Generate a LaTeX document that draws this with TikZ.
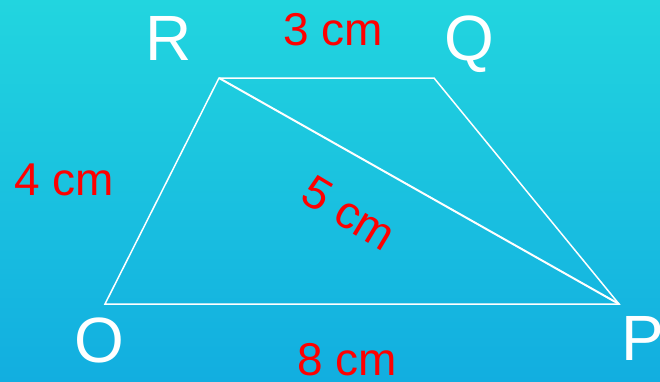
\documentclass[tikz,border=0pt]{standalone}
\usepackage{fontspec}
\setmainfont{Liberation Sans}
\definecolor{bgtop}{HTML}{22D5DF}
\definecolor{bgbot}{HTML}{12AEE0}
\definecolor{lblred}{HTML}{FF0000}
\begin{document}
\begin{tikzpicture}[x=1pt,y=1pt,
  vlabel/.style={text=white,font=\fontsize{64}{64}\selectfont,anchor=base,inner sep=0pt},
  mlabel/.style={text=lblred,font=\fontsize{46}{46}\selectfont,inner sep=0pt},
  edge/.style={draw=white,line width=1.5pt,line join=miter}]
\shade[top color=bgtop,bottom color=bgbot] (0,0) rectangle (660,-381);
\useasboundingbox (0,0) rectangle (660,-381);
\coordinate (R) at (219,-78);
\coordinate (Q) at (434,-78);
\coordinate (O) at (105,-304);
\coordinate (P) at (619,-304);
\draw[edge] (O) -- (R) -- (Q) -- (P) -- cycle;
\draw[edge,line width=2pt] (R) -- (P);
\node[vlabel] (lR) at (169,-60) {R};
\node[vlabel] (lQ) at (469,-60) {Q};
\node[vlabel] (lO) at (99,-362) {O};
\node[vlabel] (lP) at (643,-360) {P};
\node[mlabel,anchor=base] (l3) at (333,-45) {3 cm};
\node[mlabel,anchor=base] (l4) at (64,-195) {4 cm};
\node[mlabel,anchor=base] (l8) at (347,-375) {8 cm};
\node[mlabel,rotate=-31] (l5) at (349,-213) {5 cm};
\end{tikzpicture}
\end{document}
